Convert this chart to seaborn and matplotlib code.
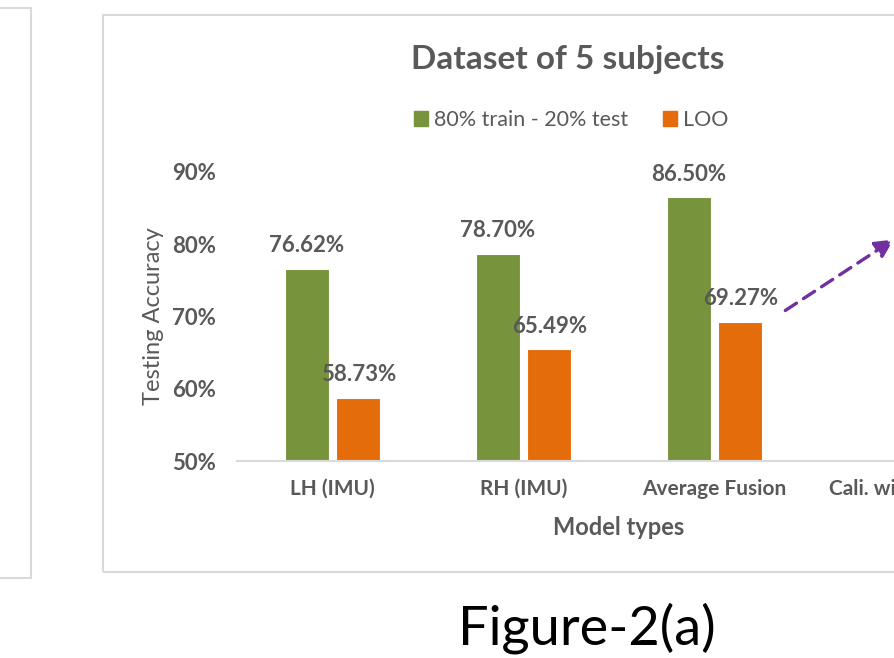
import numpy as np
import pandas as pd
import matplotlib
matplotlib.use("Agg")
import matplotlib.pyplot as plt
from matplotlib.patches import Rectangle, FancyArrowPatch
import seaborn as sns

# chart values (percent)
model_types = ["LH (IMU)", "RH (IMU)", "Average Fusion", "Cali. with Fusion"]
split_acc = [76.62, 78.70, 86.50, np.nan]   # 80% train - 20% test
loo_acc = [58.73, 65.49, 69.27, np.nan]     # LOO (4th category lies outside the crop)
series_names = ["80% train - 20% test", "LOO"]
y_ticks = [50, 60, 70, 80, 90]

GREEN = "#77933C"
ORANGE = "#E46C0A"
TXT = "#595959"
FONT = "Lato"

df = pd.DataFrame({
    "model": model_types * 2,
    "acc": split_acc + loo_acc,
    "series": [series_names[0]] * 4 + [series_names[1]] * 4,
})

sns.set_theme(style="white")
plt.rcParams["font.family"] = [FONT, "DejaVu Sans"]

W, H = 895, 658
fig = plt.figure(figsize=(W / 100, H / 100), dpi=100)

def fx(px):
    return px / W

def fy(py):
    return 1 - py / H

# frames of the neighbouring panel and of this chart
fig.patches.append(Rectangle((fx(-400), fy(578)), fx(431), fy(8) - fy(578),
                             transform=fig.transFigure, fill=False,
                             edgecolor="#D9D9D9", linewidth=1.5))
fig.patches.append(Rectangle((fx(103), fy(572)), fx(932), fy(15) - fy(572),
                             transform=fig.transFigure, fill=False,
                             edgecolor="#D9D9D9", linewidth=1.5))

# axes: x from 237px, 191px per category; y 50% at 461px, 90% at 172px
ax = fig.add_axes([fx(237), fy(461), fx(4 * 191), fy(172) - fy(461)])
ax.patch.set_alpha(0)

sns.barplot(data=df, x="model", y="acc", hue="series",
            palette=[GREEN, ORANGE], saturation=1, width=0.54, gap=0.15,
            edgecolor="white", linewidth=0.8, ax=ax, legend=False)

ax.set_xlim(-0.5, 3.5)
ax.set_ylim(50, 90)
ax.set_yticks(y_ticks)
ax.set_yticklabels([f"{v}%" for v in y_ticks], fontsize=16, fontweight="bold", color=TXT)
ax.tick_params(axis="y", length=0, pad=15)
ax.tick_params(axis="x", length=0, pad=13)
for t in ax.get_xticklabels():
    t.set_fontsize(15)
    t.set_fontweight("bold")
    t.set_color(TXT)

for s in ["top", "right", "left"]:
    ax.spines[s].set_visible(False)
ax.spines["bottom"].set_color("#D9D9D9")
ax.spines["bottom"].set_linewidth(1.5)

ax.set_xlabel("Model types", fontsize=17, fontweight="bold", color=TXT, labelpad=12)
ax.set_ylabel("Testing Accuracy", fontsize=17, color=TXT, labelpad=6)

# data labels
for cont in ax.containers:
    labels = ["" if np.isnan(v) else f"{v:.2f}%" for v in cont.datavalues]
    ax.bar_label(cont, labels=labels, padding=9, fontsize=16,
                 fontweight="bold", color=TXT)

# title and legend
fig.text(fx(568), fy(60), "Dataset of 5 subjects", ha="center", va="center",
         fontsize=24, fontweight="bold", color=TXT)
handles = [Rectangle((0, 0), 1, 1, color=c) for c in (GREEN, ORANGE)]
fig.legend(handles, series_names, loc="center", bbox_to_anchor=(fx(571), fy(120)),
           ncol=2, frameon=False, fontsize=15.5, handlelength=0.65, handleheight=0.65,
           handletextpad=0.3, columnspacing=1.6, labelcolor=TXT)

# dashed arrow towards the calibrated result
fig.add_artist(FancyArrowPatch(
    (fx(783), fy(312)), (fx(896), fy(238)), transform=fig.transFigure,
    arrowstyle="-|>,head_length=11,head_width=5.5", linestyle=(0, (4, 2.5)),
    linewidth=2.4, color="#7030A0", mutation_scale=1))

fig.text(fx(587), fy(628), "Figure-2(a)", ha="center", va="center",
         fontsize=39, color="black")

fig.savefig("out.png", dpi=100)
